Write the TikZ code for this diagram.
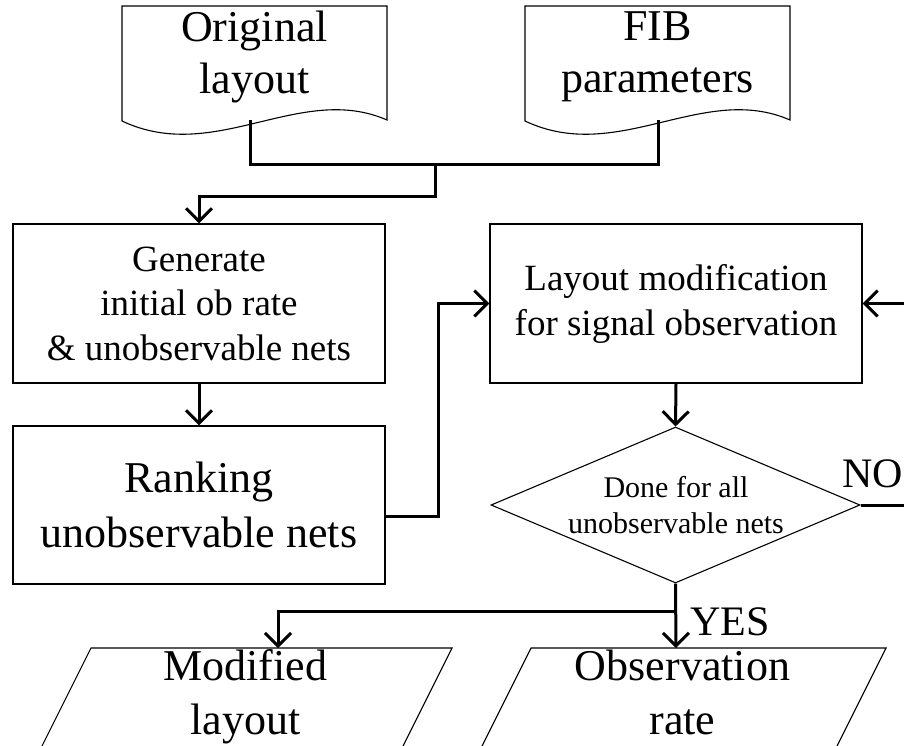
\documentclass[tikz,border=0pt]{standalone}
\usepackage{fontspec}
\setmainfont{Liberation Serif}
\usetikzlibrary{arrows.meta,shapes.geometric,calc}
\begin{document}
\begin{tikzpicture}[x=1pt,y=-1pt,
  outline/.style={draw,line width=1.1pt},
  box/.style={outline,inner sep=0pt,minimum width=372pt,minimum height=159pt,align=center},
  doctext/.style={align=center,inner sep=0pt,font=\fontsize{44}{52}\selectfont},
  decision/.style={outline,diamond,inner sep=0pt,minimum width=369pt,minimum height=156pt},
  paratext/.style={align=center,inner sep=0pt,font=\fontsize{44}{54}\selectfont},
  conn/.style={line width=3pt},
  arr/.style={conn,-{Straight Barb[length=13pt,width=26pt]}},
  answer/.style={inner sep=0pt,anchor=base west,font=\fontsize{42}{50}\selectfont}]
\clip (0,0) rectangle (904,746);

% input documents with a wavy lower edge
\draw[outline] (122,6) -- (387,6) -- (387,120) .. controls (300,82) and (215,165) .. (122,121) -- cycle;
\draw[outline] (525,6) -- (790,6) -- (790,120) .. controls (703,82) and (618,165) .. (525,121) -- cycle;
\node[doctext] (orig) at (254.5,57) {Original\\layout};
\node[doctext] (fib) at (657.5,57) {FIB\\parameters};

% process steps
\node[box,font=\fontsize{37}{44.5}\selectfont] (gen) at (199,303.5) {Generate\\initial ob rate\\\& unobservable nets};
\node[box,minimum height=158pt,font=\fontsize{44}{55}\selectfont] (rank) at (199,505) {Ranking\\unobservable nets};
\node[box,font=\fontsize{37}{45}\selectfont] (mod) at (676,303.5) {Layout modification\\for signal observation};
\node[decision] (dec) at (675.5,505) {};
\node[align=center,inner sep=0pt,font=\fontsize{30}{36}\selectfont] (dectxt) at (676,505) {Done for all\\unobservable nets};

% output data (slanted boxes running off the lower edge)
\draw[outline] (91,648) -- (452,648) -- (400,752) -- (39,752) -- cycle;
\draw[outline] (531,648) -- (886,648) -- (834,752) -- (479,752) -- cycle;
\node[paratext] (pmod) at (245.5,697) {Modified\\layout};
\node[paratext] (pobs) at (682.5,697) {Observation\\rate\vphantom{y}};
\coordinate (pmodin) at (278,648);
\coordinate (pobsin) at (676,648);

% branch labels
\node[answer] (no) at (842,487) {NO};
\node[answer] (yes) at (690,635) {YES};

% connectors
\coordinate (d1out) at (250,120);
\coordinate (d2out) at (658,120);
\coordinate (join) at (435,165);
\draw[conn] (d1out) |- (join);
\draw[conn] (d2out) |- (join);
\draw[arr] (join) -- ++(0,31) -| (gen.north);
\draw[arr] (gen.south) -- (rank.north);
\draw[arr] ([yshift=-11pt]rank.east) -- ++(53,0) |- (mod.west);
\draw[arr] (mod.south) -- (dec.north);
\draw[arr] (dec.east) -- ++(60,0) |- (mod.east);
\coordinate (split) at (dec.south |- 0,611);
\draw[arr] (dec.south) -- (pobsin);
\draw[arr] (split) -| (pmodin);
\end{tikzpicture}
\end{document}
